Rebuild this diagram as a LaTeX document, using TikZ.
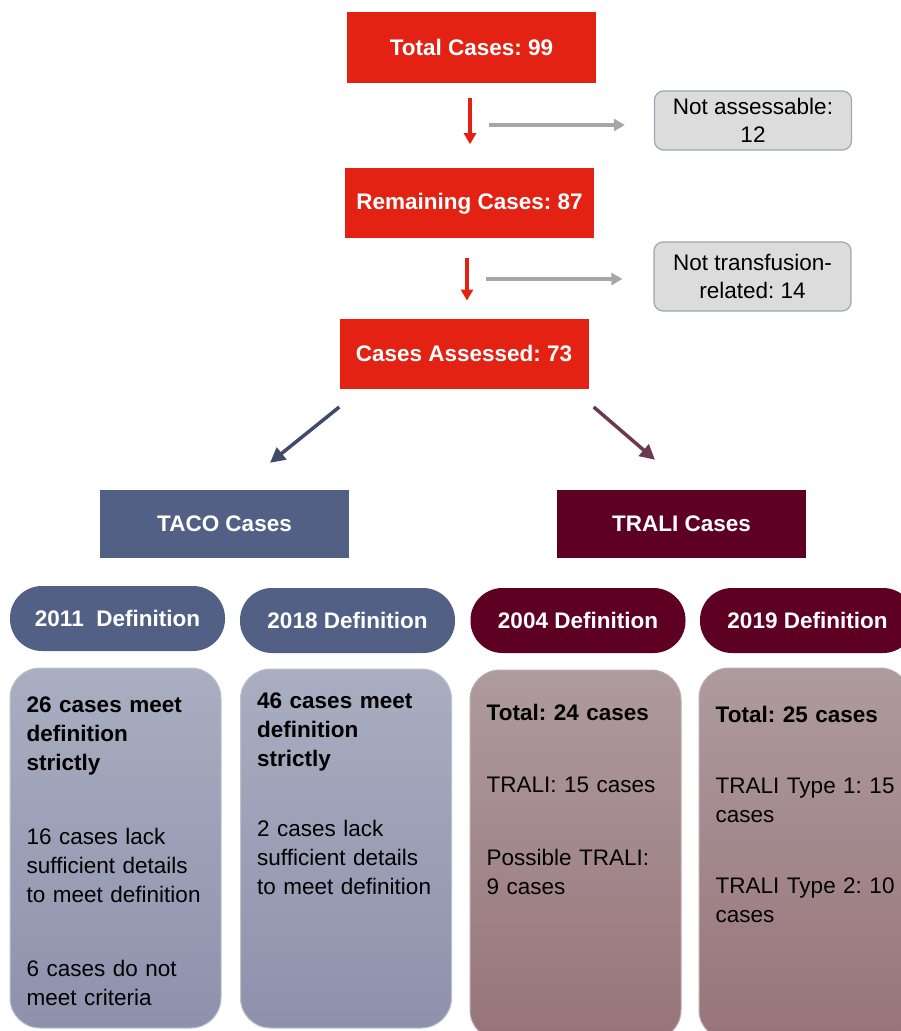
\documentclass[tikz,border=0pt]{standalone}
\usepackage{fontspec}
\setmainfont{Liberation Sans}
\frenchspacing
\usetikzlibrary{arrows.meta,positioning,calc}
\definecolor{flowred}{RGB}{227,34,19}
\definecolor{flowgrey}{RGB}{220,220,220}
\definecolor{flowgreyedge}{RGB}{160,165,178}
\definecolor{flowgreyarrow}{RGB}{166,166,166}
\definecolor{tacodark}{RGB}{83,96,134}
\definecolor{tacoarrow}{RGB}{64,75,108}
\definecolor{tacotop}{RGB}{170,174,193}
\definecolor{tacobottom}{RGB}{141,145,172}
\definecolor{tacoedge}{RGB}{190,193,208}
\definecolor{tralidark}{RGB}{94,0,34}
\definecolor{traliarrow}{RGB}{108,58,80}
\definecolor{tralitop}{RGB}{174,155,158}
\definecolor{tralibottom}{RGB}{151,116,121}
\definecolor{traliedge}{RGB}{190,170,174}
\tikzset{
  flow box/.style={
    fill=flowred,
    text=white,
    font=\bfseries\fontsize{22.5}{27}\selectfont,
    minimum width=249pt,
    minimum height=70pt,
    inner sep=0pt,
  },
  drop box/.style={
    fill=flowgrey,
    draw=flowgreyedge,
    line width=1.2pt,
    rounded corners=9pt,
    align=center,
    font=\fontsize{22.5}{28.5}\selectfont,
    minimum width=197pt,
    inner sep=0pt,
  },
  group box/.style={
    text=white,
    font=\bfseries\fontsize{22.5}{27}\selectfont,
    minimum width=249pt,
    minimum height=68pt,
    inner sep=0pt,
  },
  def pill/.style={
    text=white,
    font=\bfseries\fontsize{22.5}{27}\selectfont,
    minimum width=215pt,
    minimum height=65pt,
    rounded corners=32pt,
    inner sep=0pt,
  },
  def body/.style={
    rounded corners=30pt,
    minimum width=211pt,
    line width=1pt,
    inner sep=0pt,
  },
  body text/.style={
    anchor=north west,
    align=left,
    text width=195pt,
    inner sep=0pt,
    font=\fontsize{22.5}{29}\selectfont,
  },
  down arrow/.style={
    -{Triangle[length=11pt,width=12pt]},
    line width=3.2pt,
    draw=flowred,
  },
  side arrow/.style={
    -{Triangle[length=11pt,width=12pt]},
    line width=3.2pt,
    draw=flowgreyarrow,
  },
  branch arrow/.style={
    -{Triangle[length=15pt,width=15pt]},
    line width=3.5pt,
  },
}
\begin{document}
\begin{tikzpicture}[x=1pt,y=-1pt]
  \useasboundingbox (0,0) rectangle (901,1031);
  \clip (0,0) rectangle (901,1031);
  \node[flow box, minimum height=71pt] (total) at (471.5,47.5) {Total Cases: 99};
  \node[flow box, below=85pt of total, xshift=-2pt] (remaining) {Remaining Cases: 87};
  \node[flow box, below=80pt of remaining, xshift=-5.5pt] (assessed) {Cases Assessed: 73};
  \node[drop box, minimum height=59pt] (notassess) at (753,120.5) {Not assessable:\\12};
  \node[drop box, minimum height=69pt] (notrelated) at (752.5,276.5) {Not transfusion-\\related: 14};
  \coordinate (split1) at (470,125);
  \coordinate (split2) at (467,279);
  \draw[down arrow] ([yshift=-15pt]split1 |- total.south) -- ([yshift=24pt]split1 |- remaining.north);
  \draw[down arrow] ([yshift=-19pt]split2 |- remaining.south) -- ([yshift=18pt]split2 |- assessed.north);
  \draw[side arrow, shorten >=29pt] ([xshift=19pt]split1) -- (split1 -| notassess.west);
  \draw[side arrow, shorten >=31pt] ([xshift=19pt]split2) -- (split2 -| notrelated.west);
  \node[group box, fill=tacodark] (taco) at (224.5,524) {TACO Cases};
  \node[group box, fill=tralidark] (trali) at (681.5,524) {TRALI Cases};
  \draw[branch arrow, draw=tacoarrow] ([yshift=-18pt]assessed.south west) -- ([xshift=45.5pt,yshift=27pt]taco.north);
  \draw[branch arrow, draw=traliarrow] ([xshift=5pt,yshift=-18pt]assessed.south east) -- ([xshift=-26.5pt,yshift=30pt]trali.north);
  \node[def pill, fill=tacodark] (d2011) at (117.5,618.5) {2011~ Definition};
  \node[def pill, fill=tacodark] (d2018) at (347.5,620.5) {2018 Definition};
  \node[def pill, fill=tralidark] (d2004) at (578,620.5) {2004 Definition};
  \node[def pill, fill=tralidark] (d2019) at (807.5,620.5) {2019 Definition};
  \node[def body, minimum height=360pt, top color=tacotop, bottom color=tacobottom, draw=tacoedge] (b2011) at (115.5,848) {};
  \node[def body, minimum height=359pt, top color=tacotop, bottom color=tacobottom, draw=tacoedge] (b2018) at (346,848.5) {};
  \node[def body, minimum height=370pt, top color=tralitop, bottom color=tralibottom, draw=traliedge] (b2004) at (575.5,855) {};
  \node[def body, minimum height=372pt, top color=tralitop, bottom color=tralibottom, draw=traliedge] (b2019) at (804.5,854) {};
  \node[body text] (t2011) at ([shift={(17,29)}]b2011.north west)
    {\textbf{26 cases meet\\definition\\strictly}\\[45pt]16 cases lack\\sufficient details\\to meet definition\\[45pt]6 cases do not\\meet criteria};
  \node[body text] (t2018) at ([shift={(17,24.5)}]b2018.north west)
    {\textbf{46 cases meet\\definition\\strictly}\\[41pt]2 cases lack\\sufficient details\\to meet definition};
  \node[body text] (t2004) at ([shift={(17,34.5)}]b2004.north west)
    {\textbf{Total: 24 cases}\\[43pt]TRALI: 15 cases\\[44pt]Possible TRALI:\\9 cases};
  \node[body text] (t2019) at ([shift={(17,38.5)}]b2019.north west)
    {\textbf{Total: 25 cases}\\[42pt]TRALI Type 1: 15\\cases\\[42pt]TRALI Type 2: 10\\cases};
\end{tikzpicture}
\end{document}
